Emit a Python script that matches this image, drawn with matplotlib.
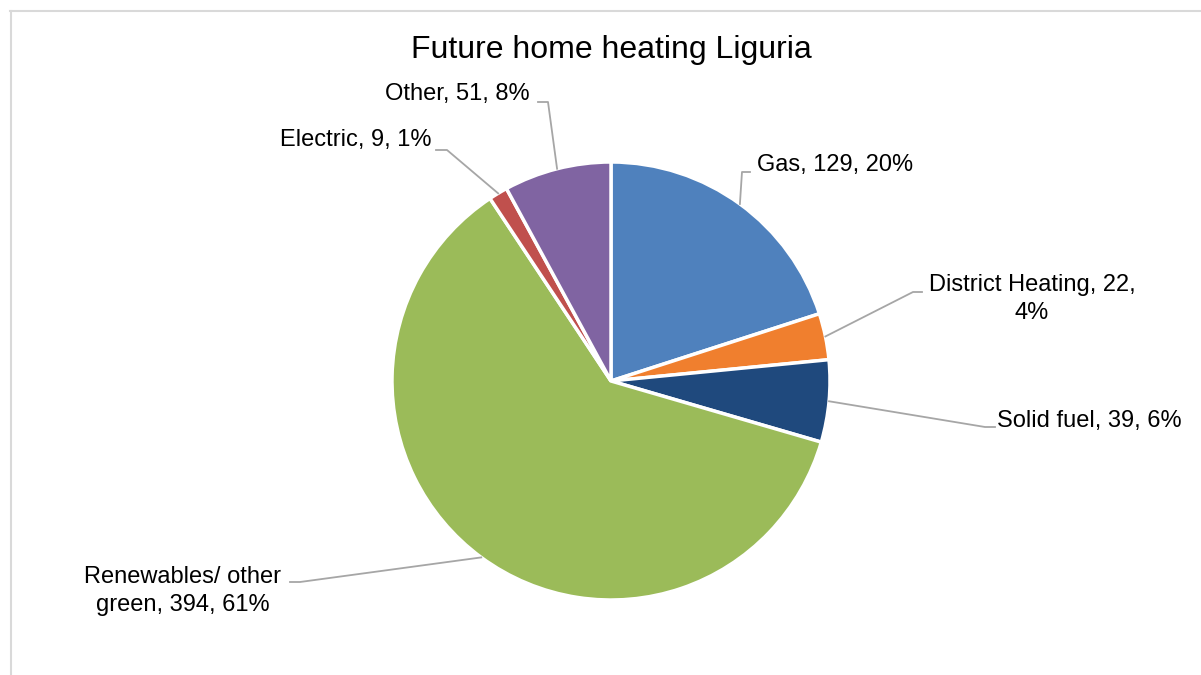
import matplotlib.pyplot as plt
import numpy as np
from matplotlib.lines import Line2D

plt.rcParams['font.family'] = ['Liberation Sans', 'DejaVu Sans']

# data
categories = ["Gas", "District Heating", "Solid fuel", "Renewables/ other green", "Electric", "Other"]
values = [129, 22, 39, 394, 9, 51]
label_texts = ["Gas, 129, 20%", "District Heating, 22,\n4%", "Solid fuel, 39, 6%",
               "Renewables/ other\ngreen, 394, 61%", "Electric, 9, 1%", "Other, 51, 8%"]
colors = ["#4F81BD", "#F07F2E", "#1F497D", "#9BBB59", "#C0504D", "#8064A2"]

W, H = 1201, 675
fig = plt.figure(figsize=(W / 100, H / 100), dpi=100)
ax = fig.add_axes([0, 0, 1, 1])

cx, cy, r = 611, H - 381, 219
wedges, _ = ax.pie(values, colors=colors, startangle=90, counterclock=False,
                   center=(cx, cy), radius=r, frame=True,
                   wedgeprops=dict(edgecolor='white', linewidth=2.5))
ax.set_xlim(0, W)
ax.set_ylim(0, H)
ax.set_aspect('equal')
ax.axis('off')

# label layout: (elbow x, elbow y, text x, text y, ha) in pixel coords from top
layout = [
    (742, 172, 757, 165, 'left'),
    (913, 292, 1032, 299, 'center'),
    (985, 427, 997, 421, 'left'),
    (300, 582, 183, 591, 'center'),
    (447, 150, 431, 140, 'right'),
    (548, 102, 530, 94, 'right'),
]
line_end = [750, 922, 995, 290, 436, 538]

for w, lab, (ex, ey, tx, ty, ha), le in zip(wedges, label_texts, layout, line_end):
    ang = np.deg2rad((w.theta1 + w.theta2) / 2)
    px = cx + r * np.cos(ang)
    py = cy + r * np.sin(ang)
    ax.add_line(Line2D([px, ex, le], [py, H - ey, H - ey], color='#A6A6A6', lw=1.3))
    ax.text(tx, H - ty, lab, ha=ha, va='center', fontsize=17, color='#000000',
            multialignment='center', linespacing=1.3)

ax.text(611, H - 50, "Future home heating Liguria", ha='center', va='center',
        fontsize=23, color='#000000')

# chart border
fig.add_artist(Line2D([10.5 / W, 10.5 / W], [0, 1 - 11 / H], transform=fig.transFigure,
                      color='#D9D9D9', lw=1.5))
fig.add_artist(Line2D([10 / W, 1], [1 - 11 / H, 1 - 11 / H], transform=fig.transFigure,
                      color='#D9D9D9', lw=1.5))

fig.savefig("out.png", dpi=100)
